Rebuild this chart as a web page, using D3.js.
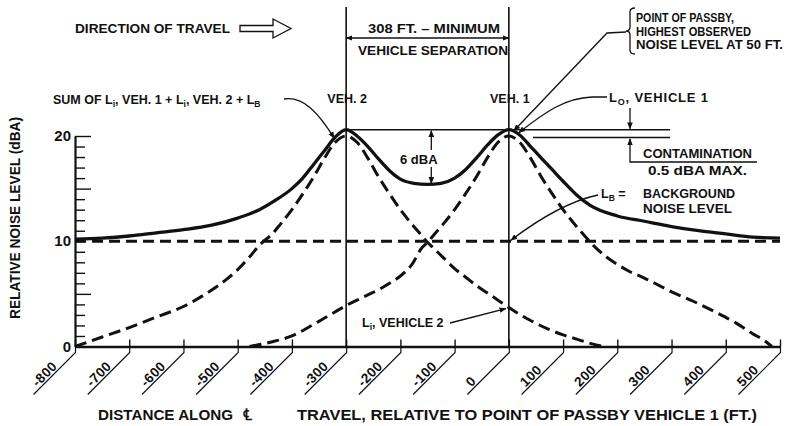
<!DOCTYPE html>
<html><head><meta charset="utf-8">
<script src="https://cdn.jsdelivr.net/npm/d3@7"></script>
<style>
body{margin:0;background:#fff;}
svg{display:block;background:#fff;}
text{font-family:"Liberation Sans",Arial,sans-serif;font-weight:bold;fill:#111;}
</style></head><body>
<svg id="c" width="786" height="426"></svg>
<script>
// ---------- data ----------
const xTicks = [-800,-700,-600,-500,-400,-300,-200,-100,0,100,200,300,400,500];
const yTickLabels = [0,10,20];
const yMinorTicks = [0,1,2,3,4,5,6,7,8,9,10,11,12,13,14,15,16,17,18,19,20];
const yLongTicks = [5,15,20];
const vehiclePositions = [-300, 0];
const vehicleNames = ["VEH. 2", "VEH. 1"];

const backgroundX = [-800, 500];
const backgroundL = [10, 10];

const veh1X = [-478,-440,-400,-360,-320,-300,-280,-260,-240,-220,-200,-180,-160,-150,-140,-120,-100,-80,-60,-40,-20,0,20,40,60,80,100,120,140,160,180,200,220,250,300,340,380,420,450,470,485];
const veh1L = [0,0.4,1.0,2.1,3.3,3.9,4.4,4.9,5.4,6.0,6.7,7.7,9.4,9.9,10.5,11.7,13.0,14.5,16.1,17.9,19.4,20,19.4,17.9,16.1,14.5,13.0,11.7,10.5,9.4,8.5,7.8,7.2,6.5,5.2,4.3,3.3,2.2,1.2,0.6,0];

const veh2X = [-800,-750,-700,-650,-600,-550,-520,-500,-480,-460,-450,-440,-420,-400,-380,-360,-340,-320,-300,-280,-260,-240,-220,-200,-180,-160,-150,-140,-120,-100,-80,-60,-40,-20,0,25,50,75,100,125,150,175];
const veh2L = [0,0.9,1.8,2.8,3.8,5.3,6.4,7.3,8.4,9.6,10.1,10.5,11.7,13.0,14.5,16.1,17.9,19.4,20,19.4,17.9,16.1,14.5,13.0,11.7,10.5,9.9,9.4,8.4,7.4,6.6,5.8,5.1,4.4,3.7,2.9,2.2,1.6,1.1,0.7,0.3,0];

const sumX = [-800,-750,-700,-650,-600,-550,-500,-460,-430,-400,-380,-360,-340,-320,-300,-280,-260,-240,-220,-200,-175,-150,-125,-100,-80,-60,-40,-20,0,20,40,60,80,100,125,150,200,250,300,350,400,450,500];
const sumL = [10.2,10.3,10.5,10.8,11.1,11.5,12.2,13.0,13.9,15.0,16.0,17.3,18.6,19.9,20.6,20.0,19.0,17.8,16.7,15.9,15.5,15.4,15.5,16.0,16.8,17.9,19.1,20.1,20.6,20.1,19.0,17.9,16.8,15.7,14.4,13.4,12.4,11.9,11.4,11.0,10.7,10.4,10.3];

const sumPeak = 20.6, vehPeak = 20, troughL = 15.4, troughX = -143;
const veh2AtVeh1 = 3.7;

// ---------- drawing ----------
const svg = d3.select("#c");
const x = d3.scaleLinear().domain([-800, 500]).range([75, 780]);
const y = d3.scaleLinear().domain([0, 20]).range([346.5, 136]);

const defs = svg.append("defs");
defs.append("marker").attr("id","ah").attr("viewBox","0 0 10 10").attr("refX",9).attr("refY",5)
  .attr("markerWidth",7).attr("markerHeight",7).attr("orient","auto-start-reverse").attr("markerUnits","userSpaceOnUse")
  .append("path").attr("d","M0,1 L10,5 L0,9 Z").attr("fill","#111");

// vehicle vertical lines
svg.selectAll(".vline").data(vehiclePositions).join("line")
  .attr("x1", d => x(d)).attr("x2", d => x(d)).attr("y1", 7).attr("y2", y(0))
  .attr("stroke","#111").attr("stroke-width",1.6);

// background level
const lineGen = (xs, ls) => d3.line().x((d,i) => x(xs[i])).y((d,i) => y(ls[i])).curve(d3.curveMonotoneX)(xs);
svg.append("path").attr("d", lineGen(backgroundX, backgroundL)).attr("fill","none")
  .attr("stroke","#111").attr("stroke-width",3).attr("stroke-dasharray","11,6");
// vehicle curves
[[veh2X,veh2L],[veh1X,veh1L]].forEach(([xs,ls]) => {
  svg.append("path").attr("d", lineGen(xs, ls)).attr("fill","none")
    .attr("stroke","#111").attr("stroke-width",3).attr("stroke-dasharray","12,6");
});
// sum curve
svg.append("path").attr("d", lineGen(sumX, sumL)).attr("fill","none")
  .attr("stroke","#111").attr("stroke-width",3.3).attr("stroke-linejoin","round");

// x axis
const xAxis = d3.axisBottom(x).tickValues(xTicks).tickSizeInner(-7).tickSizeOuter(0).tickFormat("");
const gx = svg.append("g").attr("transform", `translate(0,${y(0)})`).call(xAxis);
gx.select(".domain").attr("stroke","#111").attr("stroke-width",2.6);
gx.selectAll(".tick line").attr("stroke","#111").attr("stroke-width",1.4);
gx.selectAll(".tick").append("path").attr("d","M0,0 L0,6 L-42,48").attr("fill","none")
  .attr("stroke","#111").attr("stroke-width",1.2);
gx.selectAll(".tick").append("text").attr("transform","translate(-38,41) rotate(-45)")
  .attr("text-anchor","start").attr("font-size",13.5).attr("letter-spacing",0.5).attr("fill","#111")
  .text(d => d);

// y axis
const yAxis = d3.axisRight(y).tickValues(yMinorTicks).tickSizeInner(10).tickSizeOuter(0).tickFormat("");
const gy = svg.append("g").attr("transform", `translate(${x(-800)},0)`).call(yAxis);
gy.select(".domain").attr("stroke","#111").attr("stroke-width",2.2);
gy.selectAll(".tick line").attr("stroke","#111").attr("stroke-width",1.4)
  .attr("x2", d => yLongTicks.includes(d) ? 16 : 10);
svg.selectAll(".ylab").data(yTickLabels).join("text")
  .attr("x", 71).attr("y", d => y(d) + 5).attr("text-anchor","end").attr("font-size",15).text(d => d);

// axis titles
svg.append("text").attr("transform","translate(20,218) rotate(-90)").attr("text-anchor","middle")
  .attr("font-size",14).attr("textLength",202).attr("lengthAdjust","spacingAndGlyphs").text("RELATIVE NOISE LEVEL (dBA)");
svg.append("text").attr("x",98).attr("y",420).attr("font-size",14).attr("textLength",135).attr("lengthAdjust","spacingAndGlyphs").text("DISTANCE ALONG");
svg.append("text").attr("x",243).attr("y",420).attr("font-size",16).text("\u2104");
svg.append("text").attr("x",297).attr("y",420).attr("font-size",14).attr("textLength",460).attr("lengthAdjust","spacingAndGlyphs").text("TRAVEL, RELATIVE TO POINT OF PASSBY VEHICLE 1 (FT.)");

// direction of travel
svg.append("text").attr("x",75).attr("y",33).attr("font-size",12).attr("textLength",155).attr("lengthAdjust","spacingAndGlyphs").text("DIRECTION OF TRAVEL");
svg.append("polygon").attr("points","240,25.5 273,25.5 273,19 291,28.5 273,38 273,31.5 240,31.5")
  .attr("fill","#fff").attr("stroke","#111").attr("stroke-width",1.3);

// separation dimension
svg.append("line").attr("x1", x(-300)).attr("x2", x(0)).attr("y1",38).attr("y2",38)
  .attr("stroke","#111").attr("stroke-width",1.3).attr("marker-start","url(#ah)").attr("marker-end","url(#ah)");
svg.append("text").attr("x",434).attr("y",33).attr("text-anchor","middle").attr("font-size",12)
  .attr("textLength",132).attr("lengthAdjust","spacingAndGlyphs").text("308 FT. \u2013 MINIMUM");
svg.append("text").attr("x",433).attr("y",55).attr("text-anchor","middle").attr("font-size",12)
  .attr("textLength",150).attr("lengthAdjust","spacingAndGlyphs").text("VEHICLE SEPARATION");

// vehicle labels
svg.selectAll(".vlab").data(vehiclePositions).join("text")
  .attr("x", d => x(d) + 1).attr("y",103).attr("text-anchor","middle").attr("font-size",12.5)
  .text((d,i) => vehicleNames[i]);

// sum label
const sumT = svg.append("text").attr("x",53).attr("y",104).attr("font-size",12.5);
sumT.append("tspan").text("SUM OF L");
sumT.append("tspan").attr("dy",3).attr("font-size",8.5).text("i");
sumT.append("tspan").attr("dy",-3).text(", VEH. 1 + L");
sumT.append("tspan").attr("dy",3).attr("font-size",8.5).text("i");
sumT.append("tspan").attr("dy",-3).text(", VEH. 2 + L");
sumT.append("tspan").attr("dy",3).attr("font-size",8.5).text("B");
svg.append("path").attr("d",`M284,99 C303,96 318,112 ${x(-322)},${y(19.8)}`).attr("fill","none")
  .attr("stroke","#111").attr("stroke-width",1.3).attr("marker-end","url(#ah)");

// peak reference lines
svg.append("line").attr("x1", x(-300)).attr("x2",670).attr("y1", y(sumPeak)).attr("y2", y(sumPeak))
  .attr("stroke","#111").attr("stroke-width",1.4);
svg.append("line").attr("x1", 533).attr("x2",670).attr("y1", y(vehPeak)+1.5).attr("y2", y(vehPeak)+1.5)
  .attr("stroke","#111").attr("stroke-width",1.4);

// contamination marker
svg.append("line").attr("x1",630).attr("x2",630).attr("y1",108).attr("y2",y(sumPeak)-1)
  .attr("stroke","#111").attr("stroke-width",1.3).attr("marker-end","url(#ah)");
svg.append("path").attr("d",`M757,162 L630,162 L630,${y(vehPeak)+3}`).attr("fill","none")
  .attr("stroke","#111").attr("stroke-width",1.3).attr("marker-end","url(#ah)");
svg.append("text").attr("x",643).attr("y",158).attr("font-size",12).attr("textLength",109).attr("lengthAdjust","spacingAndGlyphs").text("CONTAMINATION");
svg.append("text").attr("x",648).attr("y",175).attr("font-size",12).attr("textLength",99).attr("lengthAdjust","spacingAndGlyphs").text("0.5 dBA MAX.");

// 6 dBA
svg.append("line").attr("x1", x(troughX)).attr("x2", x(troughX)).attr("y1",150).attr("y2", y(sumPeak)+1)
  .attr("stroke","#111").attr("stroke-width",1.3).attr("marker-end","url(#ah)");
svg.append("line").attr("x1", x(troughX)).attr("x2", x(troughX)).attr("y1",167).attr("y2", y(troughL)-1)
  .attr("stroke","#111").attr("stroke-width",1.3).attr("marker-end","url(#ah)");
svg.append("text").attr("x",400).attr("y",164).attr("font-size",13).text("6 dBA");

// point of passby
svg.append("path").attr("d","M635,8 Q630,8 630,12 L630,27 Q630,31 626,31 Q630,31 630,35 L630,50 Q630,54 635,54")
  .attr("fill","none").attr("stroke","#111").attr("stroke-width",1.3);
[["POINT OF PASSBY,",98],["HIGHEST OBSERVED",115],["NOISE LEVEL AT 50 FT.",147]].forEach(([t,w],i) => {
  svg.append("text").attr("x",636).attr("y",22 + i*13.5).attr("font-size",12.5)
    .attr("textLength",w).attr("lengthAdjust","spacingAndGlyphs").text(t);
});
svg.append("path").attr("d",`M626,32 L607,33 L${x(0)+5},${y(sumPeak)+1}`).attr("fill","none")
  .attr("stroke","#111").attr("stroke-width",1.3).attr("marker-end","url(#ah)");

// L0 vehicle 1
const l0 = svg.append("text").attr("x",609).attr("y",102).attr("font-size",13).attr("letter-spacing",0.8);
l0.append("tspan").text("L");
l0.append("tspan").attr("dy",3).attr("font-size",9).text("O");
l0.append("tspan").attr("dy",-3).text(", VEHICLE 1");
svg.append("path").attr("d",`M607,97 L592,97 C565,98 545,112 ${x(0)+10},${y(sumPeak)+3}`).attr("fill","none")
  .attr("stroke","#111").attr("stroke-width",1.3).attr("marker-end","url(#ah)");

// LB background label
const lb = svg.append("text").attr("x",601).attr("y",198).attr("font-size",12.5);
lb.append("tspan").text("L");
lb.append("tspan").attr("dy",3).attr("font-size",8.5).text("B");
lb.append("tspan").attr("dy",-3).text(" =");
svg.append("text").attr("x",643).attr("y",198).attr("font-size",12).attr("textLength",92).attr("lengthAdjust","spacingAndGlyphs").text("BACKGROUND");
svg.append("text").attr("x",643).attr("y",212.5).attr("font-size",12).attr("textLength",89).attr("lengthAdjust","spacingAndGlyphs").text("NOISE LEVEL");
svg.append("path").attr("d",`M598,195 Q560,203 ${x(0)+2},${y(10)-1}`).attr("fill","none")
  .attr("stroke","#111").attr("stroke-width",1.3).attr("marker-end","url(#ah)");

// Li vehicle 2 label
const li = svg.append("text").attr("x",362).attr("y",327).attr("font-size",12.5);
li.append("tspan").text("L");
li.append("tspan").attr("dy",3).attr("font-size",8.5).text("i");
li.append("tspan").attr("dy",-3).text(", VEHICLE 2");
svg.append("path").attr("d",`M450,323 L${x(0)-3},${y(veh2AtVeh1)+1}`).attr("fill","none")
  .attr("stroke","#111").attr("stroke-width",1.3).attr("marker-end","url(#ah)");
</script>
</body></html>
